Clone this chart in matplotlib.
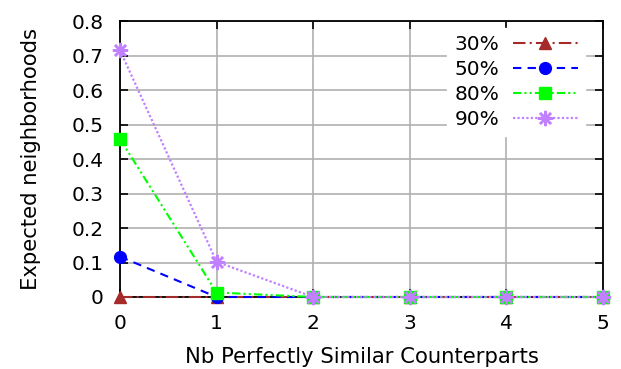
import matplotlib
matplotlib.use("Agg")
import matplotlib.pyplot as plt

# valeurs
counterparts = [0, 1, 2, 3, 4, 5]
labels = ['30%', '50%', '80%', '90%']
vals_30 = [0.0, 0.0, 0.0, 0.0, 0.0, 0.0]
vals_50 = [0.117, 0.0, 0.0, 0.0, 0.0, 0.0]
vals_80 = [0.458, 0.013, 0.0, 0.0, 0.0, 0.0]
vals_90 = [0.715, 0.102, 0.0, 0.0, 0.0, 0.0]
y_ticks = [0, 0.1, 0.2, 0.3, 0.4, 0.5, 0.6, 0.7, 0.8]
y_tick_labels = ['0', '0.1', '0.2', '0.3', '0.4', '0.5', '0.6', '0.7', '0.8']

fig = plt.figure(figsize=(6.21, 3.69), dpi=100)
ax = fig.add_axes([120 / 621, 1 - 297 / 369, 483 / 621, 276 / 369])

ax.plot(counterparts, vals_30, color='#a52a2a', linestyle=(0, (6, 2, 1, 2)),
        marker='^', markersize=8, linewidth=1.5, label=labels[0])
ax.plot(counterparts, vals_50, color='#0000ff', linestyle=(0, (4, 3)),
        marker='o', markersize=8.5, linewidth=1.5, label=labels[1])
ax.plot(counterparts, vals_80, color='#00ff00',
        linestyle=(0, (4, 1.5, 1, 1.5, 1, 1.5)),
        marker='s', markersize=8.5, linewidth=1.5, label=labels[2])
ax.plot(counterparts, vals_90, color='#c080ff', linestyle=(0, (1, 1)),
        marker=(8, 2, 0), markersize=11, markeredgewidth=1.8,
        linewidth=1.6, label=labels[3])

ax.set_xlim(0, 5)
ax.set_ylim(0, 0.8)
ax.set_yticks(y_ticks)
ax.set_yticklabels(y_tick_labels)
ax.set_xticks(counterparts)
ax.grid(True, color='#b0b0b0', linewidth=1.2)
ax.set_axisbelow(True)
ax.tick_params(direction='in', top=True, right=True, labelsize=14.5,
               length=6, width=1.2)
ax.tick_params(axis='x', pad=12.5)
ax.tick_params(axis='y', pad=12)
for s in ax.spines.values():
    s.set_linewidth(1.3)
    s.set_zorder(2.5)
for line in ax.get_lines():
    line.set_clip_on(False)
    line.set_zorder(3)

ax.set_xlabel('Nb Perfectly Similar Counterparts', fontsize=15.2, labelpad=10)
ax.set_ylabel('Expected neighborhoods', fontsize=15.2, labelpad=22)

leg = ax.legend(loc='upper right', markerfirst=False, frameon=True,
                fontsize=14.5, handlelength=3.2, labelspacing=0.3,
                borderaxespad=0.0, handletextpad=0.7, borderpad=0.35,
                bbox_to_anchor=(0.962, 0.975))
leg.get_frame().set_facecolor('white')
leg.get_frame().set_edgecolor('white')
leg.get_frame().set_alpha(1)
leg.set_zorder(4)

plt.savefig('out.png', dpi=100)
